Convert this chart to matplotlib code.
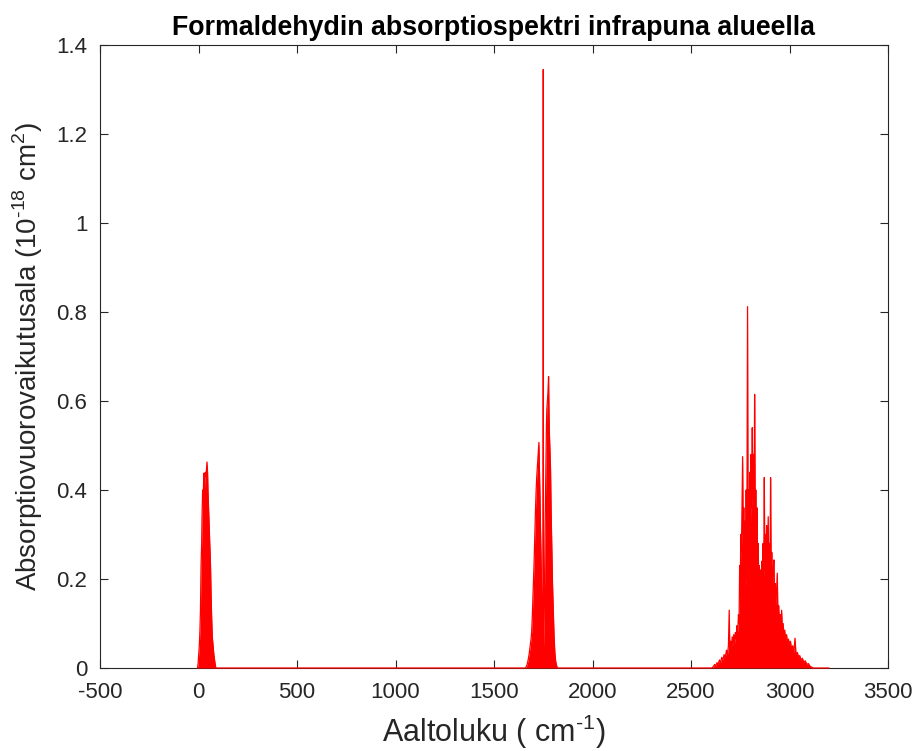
# formaldehyde IR absorption spectrum, MATLAB look

import matplotlib.pyplot as plt
import numpy as np

# band around 0-100 cm^-1
band1_wn = [-5, -2, 1, 4, 7, 10, 13, 16, 18, 21, 24, 26, 28, 30, 32, 35, 38, 41, 43, 46,
            48, 51, 54, 57, 61, 64, 67, 70, 74, 78, 81, 84, 88]
band1_sig = [0, 0.01, 0.03, 0.05, 0.08, 0.13, 0.23, 0.28, 0.34, 0.40, 0.38, 0.42, 0.438,
             0.40, 0.42, 0.44, 0.43, 0.45, 0.463, 0.44, 0.40, 0.36, 0.32, 0.28, 0.23, 0.16,
             0.11, 0.07, 0.05, 0.03, 0.02, 0.01, 0]

# C=O band around 1750 cm^-1
band2_wn = [1660, 1666, 1672, 1678, 1684, 1688, 1691, 1694, 1697, 1700, 1703, 1706, 1708,
            1711, 1714, 1717, 1720, 1723, 1726, 1728, 1730, 1733, 1735, 1737, 1740, 1742,
            1745, 1747, 1749, 1750, 1751, 1753, 1755, 1757, 1759, 1762, 1764, 1766, 1768,
            1771, 1774, 1777, 1779, 1781, 1784, 1787, 1790, 1794, 1797, 1801, 1805, 1809,
            1813, 1818, 1822]
band2_sig = [0, 0.005, 0.015, 0.03, 0.05, 0.065, 0.08, 0.11, 0.15, 0.19, 0.23, 0.28, 0.31,
             0.36, 0.40, 0.43, 0.45, 0.47, 0.49, 0.507, 0.46, 0.40, 0.34, 0.29, 0.22, 0.15,
             0.08, 0.05, 0.04, 1.345, 0.04, 0.08, 0.125, 0.20, 0.30, 0.40, 0.47, 0.54, 0.58,
             0.60, 0.62, 0.655, 0.58, 0.53, 0.49, 0.447, 0.35, 0.26, 0.19, 0.126, 0.07,
             0.034, 0.015, 0.005, 0]

# C-H stretch bands around 2800 cm^-1, baseline runs on to 3200
band3_wn = [2605, 2613, 2620, 2626, 2632, 2638, 2644, 2650, 2656, 2662, 2668, 2674, 2680,
            2685, 2690, 2694, 2697, 2701, 2705, 2709, 2713, 2717, 2721, 2725, 2729, 2733,
            2737, 2741, 2744, 2747, 2750, 2753, 2756, 2759, 2762, 2765, 2768, 2771, 2774,
            2777, 2780, 2783, 2787, 2790, 2793, 2796, 2799, 2802, 2805, 2808, 2811, 2814,
            2817, 2820, 2823, 2826, 2829, 2832, 2835, 2838, 2841, 2844, 2847, 2850, 2853,
            2856, 2859, 2862, 2866, 2869, 2872, 2875, 2878, 2881, 2884, 2887, 2892, 2895,
            2898, 2901, 2904, 2907, 2910, 2913, 2917, 2921, 2924, 2927, 2931, 2934, 2938,
            2941, 2945, 2949, 2953, 2957, 2960, 2964, 2968, 2972, 2976, 2980, 2985, 2990,
            2995, 3000, 3005, 3010, 3016, 3022, 3028, 3033, 3040, 3046, 3052, 3058, 3065,
            3072, 3080, 3088, 3096, 3104, 3112, 3120, 3200]
band3_sig = [0, 0.003, 0.008, 0.005, 0.012, 0.008, 0.018, 0.012, 0.024, 0.018, 0.03, 0.024,
             0.04, 0.03, 0.05, 0.13, 0.04, 0.06, 0.045, 0.07, 0.05, 0.075, 0.055, 0.08,
             0.065, 0.095, 0.08, 0.12, 0.10, 0.23, 0.18, 0.30, 0.26, 0.36, 0.475, 0.30, 0.36,
             0.22, 0.33, 0.18, 0.40, 0.20, 0.812, 0.22, 0.40, 0.25, 0.44, 0.32, 0.48, 0.36,
             0.54, 0.38, 0.48, 0.36, 0.615, 0.34, 0.40, 0.30, 0.36, 0.24, 0.28, 0.19, 0.23,
             0.18, 0.22, 0.17, 0.24, 0.18, 0.28, 0.20, 0.428, 0.22, 0.30, 0.23, 0.32, 0.24,
             0.34, 0.22, 0.28, 0.21, 0.428, 0.20, 0.26, 0.18, 0.22, 0.243, 0.16, 0.19, 0.14,
             0.17, 0.213, 0.12, 0.14, 0.10, 0.12, 0.085, 0.13, 0.08, 0.10, 0.07, 0.085, 0.06,
             0.075, 0.055, 0.065, 0.05, 0.06, 0.042, 0.05, 0.035, 0.067, 0.03, 0.035, 0.024,
             0.028, 0.018, 0.022, 0.014, 0.016, 0.008, 0.01, 0.004, 0.002, 0, 0]

xticks = [-500, 0, 500, 1000, 1500, 2000, 2500, 3000, 3500]
yticks = [0, 0.2, 0.4, 0.6, 0.8, 1, 1.2, 1.4]

wn = np.array(band1_wn + band2_wn + band3_wn)
sig = np.array(band1_sig + band2_sig + band3_sig)

plt.rcParams['font.family'] = ['Liberation Sans', 'DejaVu Sans']
plt.rcParams['mathtext.fontset'] = 'custom'
plt.rcParams['mathtext.rm'] = 'Liberation Sans'

fig = plt.figure(figsize=(9.2, 7.51), dpi=100)
ax = fig.add_axes([100 / 920, 83 / 751, 788 / 920, 623 / 751])

ax.fill_between(wn, 0, sig, color='red', lw=0, zorder=3)
ax.plot(wn, sig, color='red', lw=0.9, zorder=3, clip_on=False)

ax.set_xlim(-500, 3500)
ax.set_ylim(0, 1.4)
ax.set_xticks(xticks)
ax.set_xticklabels([str(t) for t in xticks])
ax.set_yticks(yticks)
ax.set_yticklabels([f"{t:g}" for t in yticks])

edge = '#262626'
for s in ax.spines.values():
    s.set_color(edge)
    s.set_linewidth(0.8)
ax.tick_params(direction='in', length=6, width=0.8, color=edge, labelcolor=edge,
               labelsize=16, top=True, right=True)
ax.tick_params(axis='x', pad=10)
ax.tick_params(axis='y', pad=9)

ax.set_title("Formaldehydin absorptiospektri infrapuna alueella", fontsize=19.3,
             fontweight='bold', color='black', pad=7)
ax.set_xlabel("Aaltoluku ( cm$^{\u20101}$)", fontsize=22, color=edge, labelpad=7)
ax.set_ylabel("Absorptiovuorovaikutusala (10$^{\u201018}$ cm$^{2}$)", fontsize=20,
              color=edge, labelpad=8)

fig.savefig('out.png', dpi=100)
